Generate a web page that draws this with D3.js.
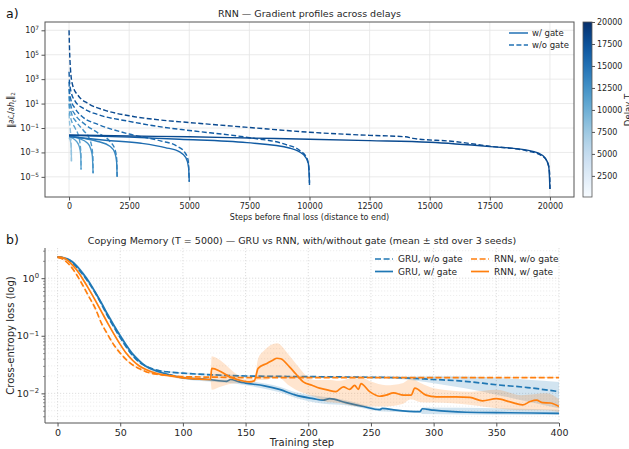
<!DOCTYPE html>
<html>
<head>
<meta charset="utf-8">
<script src="https://cdn.jsdelivr.net/npm/d3@7"></script>
<style>
body { margin: 0; background: #fff; }
svg { font-family: "DejaVu Sans", sans-serif; }
</style>
</head>
<body>
<svg width="629" height="449"></svg>
<script>
// ---------------- data: panel a (gradient norm vs steps before final loss) ----------------
const delays = [100, 500, 1000, 2000, 5000, 10000, 20000]

// w/ gate
const wg100 = [[0,1.6e-2],[50,1.0e-2],[80,4.0e-3],[95,1.0e-3],[100,1.8e-4]]
const wg500 = [[0,2.0e-2],[200,1.26e-2],[380,5.0e-3],[460,1.6e-3],[490,4.0e-4],[500,4.0e-5]]
const wg1000 = [[0,2.2e-2],[400,1.4e-2],[750,6.3e-3],[900,2.0e-3],[970,5.0e-4],[1000,2.0e-5]]
const wg2000 = [[0,2.2e-2],[600,1.4e-2],[1200,7.9e-3],[1700,3.2e-3],[1900,1.0e-3],[1980,1.6e-4],[2000,1.0e-5]]
const wg5000 = [[0,2.0e-2],[1500,1.0e-2],[3000,5.6e-3],[4000,2.5e-3],[4600,1.1e-3],[4850,4.0e-4],[4970,6.3e-5],[5000,4.0e-6]]
const wg10000 = [[0,2.5e-2],[2500,1.8e-2],[4600,1.2e-2],[7400,6.3e-3],[9200,2.2e-3],[9760,6.3e-4],[9950,1.26e-4],[10000,3.2e-6]]
const wg20000 = [[0,2.7e-2],[2500,2.2e-2],[5000,1.9e-2],[7500,1.5e-2],[10000,1.2e-2],[12500,9.3e-3],[15000,6.8e-3],[17500,3.0e-3],[19000,1.6e-3],[19500,9.0e-4],[19800,3.5e-4],[19950,7.0e-5],[20000,1.0e-6]]

// w/o gate
const ng100 = [[0,1.6],[20,0.32],[50,7.9e-2],[80,1.26e-2],[95,2.0e-3],[100,2.0e-4]]
const ng500 = [[0,10],[20,2.0],[100,0.4],[250,0.1],[400,2.0e-2],[470,3.2e-3],[495,5.0e-4],[500,4.0e-5]]
const ng1000 = [[0,40],[20,7.9],[100,1.6],[300,0.32],[600,6.3e-2],[850,1.26e-2],[950,2.5e-3],[990,4.0e-4],[1000,2.0e-5]]
const ng2000 = [[0,160],[20,32],[80,6.3],[250,1.26],[600,0.25],[1200,4.0e-2],[1700,7.9e-3],[1900,2.0e-3],[1980,3.2e-4],[2000,1.0e-5]]
const ng5000 = [[0,630],[20,100],[80,20],[250,4.0],[600,0.71],[1200,0.2],[2500,3.2e-2],[3800,8.9e-3],[4500,3.2e-3],[4800,1.1e-3],[4950,2.5e-4],[5000,4.0e-6]]
const ng10000 = [[0,4.0e3],[20,630],[80,100],[250,16],[600,4.0],[1200,1.26],[2500,0.35],[4000,0.11],[5000,6.3e-2],[7500,1.6e-2],[9000,4.5e-3],[9600,1.4e-3],[9900,3.2e-4],[9990,3.2e-5],[10000,1.6e-6]]
const ng20000 = [[0,1.0e7],[20,3.2e5],[60,6.3e3],[150,320],[400,40],[800,10],[1500,2.8],[2500,1.0],[3800,0.45],[5000,0.28],[7500,0.11],[10000,4.5e-2],[12500,2.5e-2],[14000,1.9e-2],[14300,1.4e-2],[16000,7.9e-3],[17500,3.2e-3],[19000,1.4e-3],[19600,6.3e-4],[19900,1.6e-4],[19990,1.6e-5],[20000,1.0e-6]]

const withGate = [wg100, wg500, wg1000, wg2000, wg5000, wg10000, wg20000]
const withoutGate = [ng100, ng500, ng1000, ng2000, ng5000, ng10000, ng20000]

const xTicksA = [0, 2500, 5000, 7500, 10000, 12500, 15000, 17500, 20000]
const yTicksA = [1e7, 1e5, 1e3, 1e1, 1e-1, 1e-3, 1e-5]
const cbarTicks = [2500, 5000, 7500, 10000, 12500, 15000, 17500, 20000]

// ---------------- data: panel b (copying memory, T = 5000) ----------------
const gruNoGateSteps = [0,5,10,15,20,25,30,35,40,45,50,55,60,65,70,80,90,100,125,150,200,250,275,300,325,350,375,400]
const gruNoGateMean = [2.34,2.24,2.0,1.58,1.17,0.83,0.56,0.355,0.219,0.141,0.093,0.063,0.045,0.035,0.030,0.025,0.0234,0.0224,0.0209,0.020,0.0195,0.019,0.0186,0.0174,0.0162,0.0141,0.0126,0.0107]
const gruNoGateLo = [2.25,2.14,1.9,1.49,1.1,0.78,0.525,0.333,0.206,0.133,0.088,0.060,0.043,0.0335,0.0288,0.024,0.0226,0.0216,0.0202,0.0194,0.0189,0.0184,0.0176,0.0150,0.0122,0.0095,0.0072,0.0055]
const gruNoGateHi = [2.43,2.34,2.1,1.66,1.24,0.88,0.595,0.377,0.232,0.149,0.098,0.066,0.047,0.0365,0.0312,0.026,0.0242,0.0232,0.0216,0.0206,0.0201,0.0196,0.0196,0.0198,0.0196,0.0185,0.0172,0.0158]

const gruGateSteps = [0,5,10,15,20,25,30,35,40,45,50,55,60,65,70,80,90,100,120,135,138,145,150,165,177,190,204,212,217,230,244,257,259,270,289,291,300,326,360,400]
const gruGateMean = [2.34,2.24,2.04,1.66,1.23,0.87,0.575,0.372,0.234,0.151,0.100,0.068,0.048,0.037,0.030,0.024,0.0209,0.0186,0.0174,0.0162,0.0174,0.0158,0.0151,0.0135,0.0117,0.0093,0.0081,0.0076,0.0081,0.0069,0.0059,0.0052,0.0055,0.0051,0.0048,0.0054,0.0051,0.0047,0.0046,0.0045]
const gruGateBandSteps = [0,5,10,15,20,25,30,35,40,45,50,55,60,65,70,80,90,100,135,150,177,190,212,230,257,289,291,400]
const gruGateLo = [2.25,2.13,1.92,1.55,1.14,0.80,0.53,0.342,0.215,0.139,0.092,0.063,0.0445,0.0345,0.0282,0.0228,0.0199,0.0176,0.0152,0.0138,0.0104,0.0083,0.0066,0.0062,0.0049,0.0046,0.0044,0.0042]
const gruGateHi = [2.42,2.35,2.16,1.78,1.33,0.94,0.62,0.40,0.253,0.163,0.108,0.073,0.0515,0.0395,0.0318,0.0252,0.0219,0.0196,0.0172,0.0165,0.0130,0.0104,0.0087,0.0076,0.0055,0.0050,0.0057,0.0052]

const rnnNoGateSteps = [0,5,10,15,20,25,30,35,40,45,50,55,60,65,70,80,90,100,125,150,200,300,400]
const rnnNoGateMean = [2.29,2.09,1.66,1.17,0.76,0.48,0.302,0.166,0.105,0.069,0.050,0.038,0.031,0.0269,0.024,0.0214,0.0204,0.0195,0.0191,0.0188,0.0188,0.0188,0.0188]
const rnnNoGateLo = [2.22,2.03,1.61,1.13,0.737,0.466,0.293,0.161,0.102,0.067,0.0485,0.0369,0.0301,0.0261,0.0233,0.0208,0.0198,0.0189,0.0186,0.0184,0.0184,0.0184,0.0184]
const rnnNoGateHi = [2.36,2.15,1.71,1.21,0.783,0.494,0.311,0.171,0.108,0.071,0.0515,0.0391,0.0319,0.0277,0.0247,0.022,0.021,0.0201,0.0196,0.0192,0.0192,0.0192,0.0192]

const rnnGateSteps = [0,5,10,15,20,25,30,35,40,45,50,55,60,65,70,80,90,100,110,122,123,130,137,145,153,157,160,167,172,175,178,185,190,196,203,209,215,222,228,233,237,240,242,249,257,262,268,276,282,285,294,302,318,329,339,350,361,371,377,382,387,393,400]
const rnnGateMean = [2.34,2.24,1.86,1.41,0.98,0.646,0.417,0.263,0.166,0.107,0.0708,0.049,0.0372,0.0302,0.0263,0.0219,0.020,0.0186,0.0178,0.0174,0.0272,0.024,0.0195,0.017,0.0158,0.0166,0.0272,0.0331,0.038,0.0407,0.0398,0.0288,0.0219,0.0158,0.0138,0.0123,0.0115,0.0107,0.013,0.0117,0.0138,0.0117,0.0148,0.0107,0.0089,0.0093,0.0102,0.0093,0.0093,0.0123,0.0093,0.0087,0.0087,0.0085,0.0074,0.0081,0.0071,0.0063,0.0072,0.0076,0.0069,0.0068,0.0059]
const rnnGateBandSteps = [0,5,10,15,20,25,30,35,40,45,50,55,60,65,70,80,90,100,122,123,130,140,150,157,160,165,175,185,190,200,205,215,225,240,250,262,275,282,290,300,330,350,370,390,400]
const rnnGateLo = [2.25,2.13,1.77,1.34,0.93,0.614,0.396,0.25,0.158,0.102,0.0673,0.0466,0.0353,0.0287,0.025,0.0208,0.019,0.0177,0.0166,0.0115,0.013,0.0148,0.0152,0.0155,0.017,0.017,0.0195,0.0135,0.0115,0.0095,0.0087,0.0071,0.0068,0.0059,0.0059,0.0059,0.0065,0.0079,0.0070,0.0069,0.0063,0.0055,0.0051,0.0051,0.0047]
const rnnGateHi = [2.43,2.35,1.95,1.48,1.03,0.678,0.438,0.276,0.174,0.112,0.0743,0.0515,0.039,0.0317,0.0276,0.023,0.021,0.0195,0.0182,0.044,0.037,0.024,0.0175,0.0178,0.040,0.056,0.074,0.045,0.033,0.019,0.017,0.017,0.0165,0.020,0.016,0.0138,0.015,0.018,0.015,0.0123,0.0107,0.0115,0.0093,0.010,0.0079]

const xTicksB = [0, 50, 100, 150, 200, 250, 300, 350, 400]
const yTicksB = [1, 0.1, 0.01]

// ---------------- drawing ----------------
const svg = d3.select("svg")
const txt = "#262626", spine = "#555"

// ===== panel a =====
const A = { l: 45, r: 574, t: 22, b: 197 }
const xA = d3.scaleLinear().domain([-1000, 21000]).range([A.l, A.r])
const yA = d3.scaleLog().domain([Math.pow(10, -6.65), Math.pow(10, 7.68)]).range([A.b, A.t])
const tOf = d3.scaleLog().domain([100, 20000]).range([0.4, 0.9])
const blueOf = function (T) { return d3.interpolateBlues(tOf(T)) }

svg.append("clipPath").attr("id", "clipA").append("rect")
  .attr("x", A.l).attr("y", A.t).attr("width", A.r - A.l).attr("height", A.b - A.t)

const gridA = svg.append("g").attr("stroke", "#e4e4e4").attr("stroke-width", 0.8)
gridA.selectAll("line.v").data(xTicksA).join("line")
  .attr("x1", d => xA(d)).attr("x2", d => xA(d)).attr("y1", A.t).attr("y2", A.b)
gridA.selectAll("line.h").data(yTicksA).join("line")
  .attr("y1", d => yA(d)).attr("y2", d => yA(d)).attr("x1", A.l).attr("x2", A.r)

const lineA = d3.line().x(d => xA(d[0])).y(d => yA(d[1])).curve(d3.curveMonotoneX)
const curvesA = svg.append("g").attr("clip-path", "url(#clipA)").attr("fill", "none")
delays.forEach(function (T, i) {
  curvesA.append("path").datum(withGate[i]).attr("d", lineA)
    .attr("stroke", blueOf(T)).attr("stroke-width", 1.4)
  curvesA.append("path").datum(withoutGate[i]).attr("d", lineA)
    .attr("stroke", blueOf(T)).attr("stroke-width", 1.4).attr("stroke-dasharray", "5,2.4")
})

function sup(sel) {
  sel.each(function (d) {
    const e = Math.round(Math.log10(d))
    const t = d3.select(this).text(null)
    t.append("tspan").text("10")
    t.append("tspan").attr("dy", "-0.5em").attr("font-size", "72%").text(e < 0 ? "\u2212" + (-e) : e)
  })
}

const axAx = svg.append("g").attr("transform", "translate(0," + A.b + ")")
  .call(d3.axisBottom(xA).tickValues(xTicksA).tickFormat(d3.format("d")).tickSize(3.5).tickPadding(2.5))
const axAy = svg.append("g").attr("transform", "translate(" + A.l + ",0)")
  .call(d3.axisLeft(yA).tickValues(yTicksA).tickFormat("").tickSize(3.5).tickPadding(2.5))
axAy.selectAll(".tick text").call(sup)
;[axAx, axAy].forEach(function (g) {
  g.select(".domain").remove()
  g.selectAll(".tick line").attr("stroke", spine)
  g.selectAll(".tick text").attr("fill", txt).attr("font-size", 8).attr("font-family", "DejaVu Sans")
})
svg.append("rect").attr("x", A.l).attr("y", A.t).attr("width", A.r - A.l).attr("height", A.b - A.t)
  .attr("fill", "none").attr("stroke", spine).attr("stroke-width", 1)

svg.append("text").attr("x", (A.l + A.r) / 2).attr("y", 17).attr("text-anchor", "middle")
  .attr("font-size", 9.5).attr("fill", txt).text("RNN \u2014 Gradient profiles across delays")
svg.append("text").attr("x", (A.l + A.r) / 2).attr("y", 220).attr("text-anchor", "middle")
  .attr("font-size", 8).attr("fill", txt).text("Steps before final loss (distance to end)")
const ylabA = svg.append("text").attr("transform", "translate(14,110) rotate(-90)")
  .attr("text-anchor", "middle").attr("font-size", 8).attr("fill", txt)
ylabA.append("tspan").text("\u2016\u2202")
ylabA.append("tspan").attr("font-style", "italic").text("\u2112")
ylabA.append("tspan").text("/\u2202")
ylabA.append("tspan").attr("font-style", "italic").text("h")
ylabA.append("tspan").attr("dy", "0.3em").attr("font-size", "70%").attr("font-style", "italic").text("t")
ylabA.append("tspan").attr("dy", "-0.3em").text("\u2016")
ylabA.append("tspan").attr("dy", "0.3em").attr("font-size", "70%").text("2")
svg.append("text").attr("x", 6).attr("y", 18).attr("font-size", 12.5).attr("fill", "#111").text("a)")

// legend a
const legA = svg.append("g").attr("font-size", 8.5).attr("fill", txt)
const legBlue = d3.interpolateBlues(0.75)
;[["w/ gate", null], ["w/o gate", "5,2.4"]].forEach(function (e, i) {
  const y = 33 + i * 12
  legA.append("line").attr("x1", 509).attr("x2", 528).attr("y1", y).attr("y2", y)
    .attr("stroke", legBlue).attr("stroke-width", 1.5).attr("stroke-dasharray", e[1])
  legA.append("text").attr("x", 532).attr("y", y + 3).text(e[0])
})

// colorbar
const C = { l: 583, r: 592 }
const cbar = d3.scaleLinear().domain([100, 20000]).range([A.b, A.t])
const grad = svg.append("defs").append("linearGradient").attr("id", "cb")
  .attr("x1", 0).attr("x2", 0).attr("y1", 1).attr("y2", 0)
d3.range(0, 1.0001, 0.05).forEach(function (t) {
  grad.append("stop").attr("offset", t).attr("stop-color", d3.interpolateBlues(t))
})
svg.append("rect").attr("x", C.l).attr("y", A.t).attr("width", C.r - C.l).attr("height", A.b - A.t)
  .attr("fill", "url(#cb)").attr("stroke", spine).attr("stroke-width", 0.8)
const axC = svg.append("g").attr("transform", "translate(" + C.r + ",0)")
  .call(d3.axisRight(cbar).tickValues(cbarTicks).tickFormat(d3.format("d")).tickSize(3).tickPadding(2))
axC.select(".domain").remove()
axC.selectAll(".tick line").attr("stroke", spine)
axC.selectAll(".tick text").attr("fill", txt).attr("font-size", 8).attr("font-family", "DejaVu Sans")
svg.append("text").attr("transform", "translate(631,110) rotate(-90)").attr("text-anchor", "middle")
  .attr("font-size", 8.5).attr("fill", txt).text("Delay T")

// ===== panel b =====
const B = { l: 45, r: 559, t: 248, b: 423 }
const xB = d3.scaleLinear().domain([-10, 400]).range([B.l, B.r])
const yB = d3.scaleLog().domain([Math.pow(10, -2.515), Math.pow(10, 0.524)]).range([B.b, B.t])
const minorB = []
;[-3, -2, -1, 0].forEach(function (e) {
  d3.range(2, 10).forEach(function (k) {
    const v = k * Math.pow(10, e)
    if (v > yB.domain()[0] && v < yB.domain()[1]) minorB.push(v)
  })
})

svg.append("clipPath").attr("id", "clipB").append("rect")
  .attr("x", B.l).attr("y", B.t).attr("width", B.r - B.l).attr("height", B.b - B.t)

const gridB = svg.append("g").attr("stroke-dasharray", "1.2,1.8")
gridB.selectAll("line.m").data(minorB).join("line")
  .attr("x1", B.l).attr("x2", B.r).attr("y1", d => yB(d)).attr("y2", d => yB(d))
  .attr("stroke", "#e2e2e2").attr("stroke-width", 0.6)
gridB.selectAll("line.h").data(yTicksB).join("line")
  .attr("x1", B.l).attr("x2", B.r).attr("y1", d => yB(d)).attr("y2", d => yB(d))
  .attr("stroke", "#d6d6d6").attr("stroke-width", 0.8)
gridB.selectAll("line.v").data(xTicksB).join("line")
  .attr("x1", d => xB(d)).attr("x2", d => xB(d)).attr("y1", B.t).attr("y2", B.b)
  .attr("stroke", "#d6d6d6").attr("stroke-width", 0.8)

const seriesB = [
  { steps: gruNoGateSteps, mean: gruNoGateMean, bs: gruNoGateSteps, lo: gruNoGateLo, hi: gruNoGateHi, color: "#1f77b4", dash: "6,2.6" },
  { steps: gruGateSteps, mean: gruGateMean, bs: gruGateBandSteps, lo: gruGateLo, hi: gruGateHi, color: "#1f77b4", dash: null },
  { steps: rnnNoGateSteps, mean: rnnNoGateMean, bs: rnnNoGateSteps, lo: rnnNoGateLo, hi: rnnNoGateHi, color: "#ff7f0e", dash: "6,2.6" },
  { steps: rnnGateSteps, mean: rnnGateMean, bs: rnnGateBandSteps, lo: rnnGateLo, hi: rnnGateHi, color: "#ff7f0e", dash: null }
]
const plotB = svg.append("g").attr("clip-path", "url(#clipB)")
const areaB = d3.area().x(d => xB(d[0])).y0(d => yB(d[1])).y1(d => yB(d[2])).curve(d3.curveMonotoneX)
const lineB = d3.line().x(d => xB(d[0])).y(d => yB(d[1])).curve(d3.curveMonotoneX)
seriesB.forEach(function (s) {
  plotB.append("path").datum(s.bs.map((x, i) => [x, s.lo[i], s.hi[i]])).attr("d", areaB)
    .attr("fill", s.color).attr("fill-opacity", 0.2)
  plotB.append("path").datum(s.steps.map((x, i) => [x, s.mean[i]])).attr("d", lineB)
    .attr("fill", "none").attr("stroke", s.color).attr("stroke-width", 1.7).attr("stroke-dasharray", s.dash)
})

const axBx = svg.append("g").attr("transform", "translate(0," + B.b + ")")
  .call(d3.axisBottom(xB).tickValues(xTicksB).tickFormat(d3.format("d")).tickSize(3.5).tickPadding(2.5))
const axBy = svg.append("g").attr("transform", "translate(" + B.l + ",0)")
  .call(d3.axisLeft(yB).tickValues(yTicksB).tickFormat("").tickSize(3.5).tickPadding(2.5))
axBy.selectAll(".tick text").call(sup)
svg.append("g").attr("transform", "translate(" + B.l + ",0)")
  .call(d3.axisLeft(yB).tickValues(minorB).tickFormat("").tickSize(2))
  .call(g => g.select(".domain").remove())
  .selectAll(".tick line").attr("stroke", spine).attr("stroke-width", 0.6)
;[axBx, axBy].forEach(function (g) {
  g.select(".domain").attr("stroke", spine).attr("stroke-width", 1)
  g.selectAll(".tick line").attr("stroke", spine)
  g.selectAll(".tick text").attr("fill", txt).attr("font-size", 9.5).attr("font-family", "DejaVu Sans")
})
axBx.select(".domain").attr("d", "M" + B.l + ",0H" + B.r)
axBy.select(".domain").attr("d", "M0," + B.t + "V" + B.b)

svg.append("text").attr("x", (B.l + B.r) / 2).attr("y", 244).attr("text-anchor", "middle")
  .attr("font-size", 9.5).attr("fill", txt)
  .text("Copying Memory (T = 5000) \u2014 GRU vs RNN, with/without gate (mean \u00b1 std over 3 seeds)")
svg.append("text").attr("x", (B.l + B.r) / 2).attr("y", 446).attr("text-anchor", "middle")
  .attr("font-size", 10).attr("fill", txt).text("Training step")
svg.append("text").attr("transform", "translate(14," + (B.t + B.b) / 2 + ") rotate(-90)")
  .attr("text-anchor", "middle").attr("font-size", 10).attr("fill", txt).text("Cross-entropy loss (log)")
svg.append("text").attr("x", 6).attr("y", 244).attr("font-size", 12.5).attr("fill", "#111").text("b)")

// legend b (two columns, no frame)
const legendB = [
  { label: "GRU, w/o gate", s: seriesB[0], x: 375, y: 259 },
  { label: "GRU, w/ gate", s: seriesB[1], x: 375, y: 271.5 },
  { label: "RNN, w/o gate", s: seriesB[2], x: 471, y: 259 },
  { label: "RNN, w/ gate", s: seriesB[3], x: 471, y: 271.5 }
]
const legB = svg.append("g").attr("font-size", 9).attr("fill", txt)
legendB.forEach(function (e) {
  legB.append("line").attr("x1", e.x).attr("x2", e.x + 18).attr("y1", e.y).attr("y2", e.y)
    .attr("stroke", e.s.color).attr("stroke-width", 1.7).attr("stroke-dasharray", e.s.dash)
  legB.append("text").attr("x", e.x + 23).attr("y", e.y + 3.2).text(e.label)
})
</script>
</body>
</html>
